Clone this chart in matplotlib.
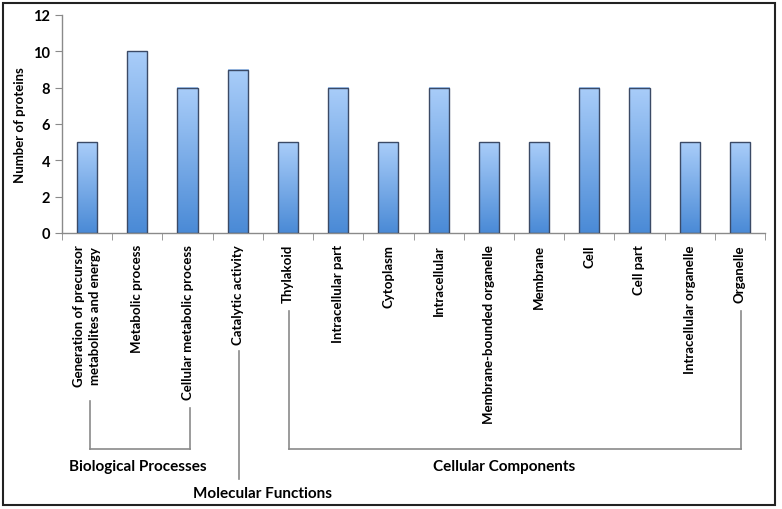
import numpy as np
import matplotlib
matplotlib.use("Agg")
import matplotlib.pyplot as plt
from matplotlib.colors import LinearSegmentedColormap
from matplotlib.patches import Rectangle
import matplotlib.transforms as mtransforms

plt.rcParams['font.family'] = ['Lato', 'DejaVu Sans']
plt.rcParams['font.weight'] = 'bold'

categories = [
    "Generation of precursor\nmetabolites and energy",
    "Metabolic process",
    "Cellular metabolic process",
    "Catalytic activity",
    "Thylakoid",
    "Intracellular part",
    "Cytoplasm",
    "Intracellular",
    "Membrane-bounded organelle",
    "Membrane",
    "Cell",
    "Cell part",
    "Intracellular organelle",
    "Organelle",
]
counts = [5, 10, 8, 9, 5, 8, 5, 8, 5, 5, 8, 8, 5, 5]
yticks = [0, 2, 4, 6, 8, 10, 12]

# (label, first bar, last bar)
groups = [
    ("Biological Processes", 0, 2),
    ("Molecular Functions", 3, 3),
    ("Cellular Components", 4, 13),
]

W, H = 782, 510
fig = plt.figure(figsize=(W / 100, H / 100), dpi=100)
ax = fig.add_axes([62 / W, 1 - 234 / H, (765 - 62) / W, (234 - 16) / H])

x = np.arange(len(categories))
bars = ax.bar(x, counts, width=0.4, facecolor='none', edgecolor='#3b4a66',
              linewidth=1.0, zorder=3)

# vertical gradient fill, dark at the bottom
cmap = LinearSegmentedColormap.from_list('blu', ['#4a8ad6', '#a9cdf9'])
grad = np.linspace(0, 1, 256).reshape(-1, 1)
for b in bars:
    x0, y0 = b.get_x(), b.get_y()
    ax.imshow(grad, cmap=cmap, aspect='auto', zorder=2, origin='lower',
              extent=[x0, x0 + b.get_width(), y0, y0 + b.get_height()])

ax.set_xlim(-0.5, len(categories) - 0.5)
ax.set_ylim(0, 12)
ax.set_yticks(yticks)
ax.set_xticks(x)
ax.set_xticklabels(categories, rotation=90, va='top', ha='center',
                   fontsize=9.5, fontweight='bold', linespacing=1.45)
ax.set_xticks(np.arange(len(categories) + 1) - 0.5, minor=True)
ax.tick_params(axis='x', which='major', length=0, pad=8)
ax.tick_params(axis='x', which='minor', length=5, color='#8a8a8a', direction='out')
ax.tick_params(axis='y', length=5, color='#8a8a8a', direction='out', labelsize=10.5)
for t in ax.get_yticklabels():
    t.set_fontweight('bold')
ax.set_ylabel("Number of proteins", fontsize=9.5, fontweight='bold', labelpad=5)

for s in ['top', 'right']:
    ax.spines[s].set_visible(False)
for s in ['left', 'bottom']:
    ax.spines[s].set_color('#8a8a8a')
    ax.spines[s].set_linewidth(1.0)

# group brackets, x in data units, y in figure fraction
tr = mtransforms.blended_transform_factory(ax.transData, fig.transFigure)
fy = lambda p: 1 - p / H
lc = '#8a8a8a'
bp = groups[0]
ax.plot([bp[1] + 0.05, bp[1] + 0.05], [fy(402), fy(450)], color=lc, lw=1.2, transform=tr, clip_on=False)
ax.plot([bp[2] + 0.05, bp[2] + 0.05], [fy(409), fy(450)], color=lc, lw=1.2, transform=tr, clip_on=False)
ax.plot([bp[1] + 0.05, bp[2] + 0.05], [fy(450), fy(450)], color=lc, lw=1.2, transform=tr, clip_on=False)
ax.text((bp[1] + bp[2]) / 2, fy(467), bp[0], transform=tr, ha='center', va='center',
        fontsize=11, fontweight='bold')

mf = groups[1]
ax.plot([mf[1] + 0.03, mf[1] + 0.03], [fy(352), fy(480)], color=lc, lw=1.2, transform=tr, clip_on=False)
ax.text(mf[1] + 0.5, fy(494), mf[0], transform=tr, ha='center', va='center',
        fontsize=11, fontweight='bold')

cc = groups[2]
ax.plot([cc[1] + 0.03, cc[1] + 0.03], [fy(312), fy(450)], color=lc, lw=1.2, transform=tr, clip_on=False)
ax.plot([cc[2] + 0.02, cc[2] + 0.02], [fy(312), fy(450)], color=lc, lw=1.2, transform=tr, clip_on=False)
ax.plot([cc[1] + 0.03, cc[2] + 0.02], [fy(450), fy(450)], color=lc, lw=1.2, transform=tr, clip_on=False)
ax.text((cc[1] + cc[2]) / 2 - 0.2, fy(467), cc[0], transform=tr, ha='center', va='center',
        fontsize=11, fontweight='bold')

# outer frame
fig.patches.append(Rectangle((3 / W, 4 / H), (775 - 3) / W, (506 - 4) / H,
                             transform=fig.transFigure, fill=False,
                             edgecolor='#222222', linewidth=1.5))

fig.savefig("out.png", dpi=100)
